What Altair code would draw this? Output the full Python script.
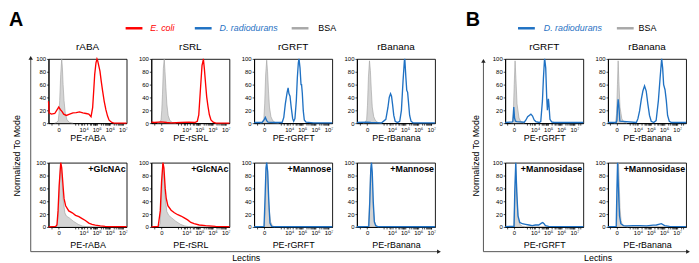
import altair as alt
import pandas as pd

FONT = "Liberation Sans"
RED = "#ff0000"
BLUE = "#1f71c3"
GRAY_FILL = "#c2c2c2"
GRAY_LINE = "#9c9c9c"
GRAY_LEG = "#a8a8a8"

PANEL_W = 79
PANEL_H = 65

# ---------------- axis ticks ----------------
TICKS_A = [-300, 0, 2000, 4000, 6000, 8000, 10000, 20000, 30000, 40000, 50000, 60000, 70000,
           80000, 90000, 100000, 200000, 300000, 400000, 500000, 600000, 700000, 800000, 900000,
           1000000, 2000000, 3000000, 4000000, 5000000, 6000000, 7000000, 8000000, 9000000, 10000000]
TICKS_B = [-500, 0, 2000, 4000, 6000, 8000, 10000, 20000, 30000, 40000, 50000, 60000, 70000,
           80000, 90000, 100000, 200000, 300000, 400000, 500000, 600000, 700000, 800000, 900000,
           1000000, 2000000, 3000000, 4000000, 5000000, 6000000, 7000000, 8000000, 9000000,
           10000000, 20000000, 30000000]
MAJOR_VALUES = [0, 10000, 100000, 1000000, 10000000]
MAJOR_LABELS = ["0", "10⁴", "10⁵", "10⁶", "10⁷"]
Y_TICKS = [0, 20, 40, 60, 80, 100]

# ---------------- text ----------------
PANEL_LETTERS = ["A", "B"]
LEGEND_A = ["E. coli", "D. radiodurans", "BSA"]
LEGEND_B = ["D. radiodurans", "BSA"]
Y_TITLE = "Normalized To Mode"
X_TITLE = "Lectins"
LECTINS_A = ["rABA", "rSRL", "rGRFT", "rBanana"]
LECTINS_B = ["rGRFT", "rBanana"]
TAGS_A = ["+GlcNAc", "+GlcNAc", "+Mannose", "+Mannose"]
TAGS_B = ["+Mannosidase", "+Mannosidase"]

# ---------------- histograms, panel A, top row ----------------
ABA_BSA_X = [-139, -60, -10, 7, 25, 55, 90, 118, 150, 200, 284, 430, 740, 1520]
ABA_BSA_Y = [0, 1, 4, 15, 35, 76, 100, 86, 60, 35, 14, 5, 1, 0]
ABA_EC_X = [-630, -552, -328, -127, -39, 2, 45, 106, 180, 362, 743, 1440, 2640, 4800, 8700,
            15500, 24900, 37000, 49000, 59000, 70500, 88200, 105000, 119000, 142000, 177000,
            222000, 283000, 373000, 499000, 670000, 880000, 1410000, 2100000, 18900000]
ABA_EC_Y = [34, 16, 14, 15, 21, 25, 21, 18, 14, 12, 14, 16, 16.5, 17.5, 16, 15, 14, 10, 24, 50,
            76, 94, 100, 97, 90, 81, 65, 50, 34, 21, 11, 4.6, 1, 0, 0]

SRL_BSA_X = [-139, -60, -10, 7, 25, 50, 80, 110, 150, 200, 284, 430, 740, 1520]
SRL_BSA_Y = [0, 1, 5, 20, 45, 85, 100, 80, 55, 30, 12, 4, 1, 0]
SRL_EC_X = [-630, -300, -5, 200, 566, 3790, 15500, 44000, 68000, 88200, 119000, 156000, 185000,
            197000, 236000, 297000, 353000, 443000, 565000, 745000, 1100000, 1770000, 18900000]
SRL_EC_Y = [1.5, 1, 2, 1, 0.5, 1, 1.5, 1, 3, 13, 54, 90, 96, 100, 84, 59, 41, 26, 13, 5, 1.5, 0, 0]

GRFT_BSA_X = [-139, -60, -10, 10, 35, 68, 100, 140, 190, 284, 430, 740, 1520]
GRFT_BSA_Y = [0, 1, 6, 30, 75, 98, 80, 50, 25, 10, 4, 1, 0]
GRFT_DR_X = [-630, -60, -5, 26, 68, 118, 566, 2800, 3790, 5000, 6800, 8200, 9500, 11500, 14200,
             18400, 22000, 27500, 35000, 42000, 50000, 56000, 67000, 80000, 88000, 100000,
             119000, 142000, 193000, 705000, 18900000]
GRFT_DR_Y = [1, 1, 5, 9, 4, 1.5, 1, 1, 9, 30, 47, 55, 46, 42, 25, 7, 3, 7, 35, 71, 94, 100, 86,
             60, 60, 47, 19, 5, 1.5, 0.5, 0.5]

BAN_BSA_X = [-139, -60, -10, 10, 35, 68, 100, 140, 190, 284, 430, 740, 1520]
BAN_BSA_Y = [0, 1, 5, 28, 72, 97, 82, 52, 25, 10, 4, 1, 0]
BAN_DR_X = [-630, -5, 118, 1520, 3300, 4800, 6100, 7690, 9190, 10900, 13700, 17500, 26200, 39000,
            52400, 70000, 88200, 95000, 115000, 134000, 156000, 177000, 222000, 283000, 400000,
            18900000]
BAN_DR_Y = [1, 1.5, 1, 0.5, 6, 24, 40, 46, 42, 30, 12, 3, 1, 3, 20, 66, 97, 100, 71, 51, 48, 35,
            12, 3, 0.5, 0.5]

# ---------------- panel A, bottom row (inhibitors) ----------------
ABA2_BSA_X = [-80, -30, -5, 26, 55, 90, 150, 250, 362, 700, 1520, 3790, 7690, 15500, 44000]
ABA2_BSA_Y = [0, 5, 28, 76, 100, 81, 44, 22, 17, 14, 9, 4, 1.5, 0.5, 0]
ABA2_EC_X = [-630, -85, -45, -15, 12, 55, 90, 150, 200, 305, 620, 1260, 2330, 4300, 7690, 13600,
             25000, 44000, 78000, 190000, 440000, 1410000, 18900000]
ABA2_EC_Y = [0, 1, 3, 25, 65, 100, 92, 63, 44, 33, 25, 22, 18, 16, 13, 10, 6, 4, 2.7, 1.6, 1, 0.5, 0.5]

SRL2_BSA_X = [-90, -35, -8, 20, 37, 68, 120, 200, 330, 650, 1400, 3500, 7500, 15000, 40000]
SRL2_BSA_Y = [0, 5, 30, 78, 100, 80, 45, 24, 18, 14, 9, 4, 1.5, 0.5, 0]
SRL2_EC_X = [-630, -100, -30, 2, 37, 68, 118, 164, 265, 566, 1100, 2090, 3790, 6800, 12400,
             22000, 39000, 95000, 297000, 1680000, 18900000]
SRL2_EC_Y = [0, 1, 25, 70, 100, 92, 60, 45, 33, 26, 22, 19, 17, 14, 11, 7, 5, 3, 2, 1, 0.5]

GRFT2_BSA_X = [-5, 18, 45, 68, 106, 160, 260, 400, 700]
GRFT2_BSA_Y = [0, 20, 80, 97, 80, 30, 8, 2, 0]
GRFT2_DR_X = [-630, -5, 18, 45, 68, 106, 150, 219, 340, 480, 18900000]
GRFT2_DR_Y = [0.3, 1, 44, 92, 100, 86, 44, 6, 1, 0.5, 0.3]

BAN2_BSA_X = [30, 60, 100, 140, 180, 250, 350, 500, 800]
BAN2_BSA_Y = [0, 25, 80, 97, 78, 30, 8, 2, 0]
BAN2_DR_X = [-630, 45, 78, 118, 150, 190, 250, 330, 456, 700, 18900000]
BAN2_DR_Y = [0.3, 1, 40, 90, 100, 85, 40, 8, 2, 0.5, 0.3]

# ---------------- panel B ----------------
B_GRFT_BSA_X = [-145, -67, -20, 20, 62, 110, 188, 366, 620, 1290]
B_GRFT_BSA_Y = [0, 2, 15, 60, 97, 70, 30, 8, 2, 0]
B_GRFT_DR_X = [-857, -67, -40, 0, 35, 85, 188, 1290, 1810, 2520, 3390, 4640, 6290, 8390, 11350,
               20300, 27300, 36700, 43600, 52000, 54700, 65300, 77700, 87700, 104500, 115700,
               137700, 185000, 275000, 47000000]
B_GRFT_DR_Y = [1, 2, 3, 25, 8, 3, 2.5, 1.5, 5, 10, 12, 14, 11, 5, 2.5, 1, 2.5, 35, 70, 97, 100, 86,
               40, 20, 38, 28, 6, 2, 1, 1]

B_BAN_BSA_X = [-145, -40, 0, 40, 77, 120, 200, 366, 620, 1290]
B_BAN_BSA_Y = [0, 2, 15, 60, 97, 65, 25, 7, 2, 0]
B_BAN_DR_X = [-857, -16, 13, 46, 77, 120, 188, 7540, 10000, 13500, 18300, 24200, 32500, 43600,
              57900, 77700, 104500, 163000, 248000, 369000, 496000, 655000, 778000, 925000,
              1180000, 1480000, 1850000, 2490000, 3690000, 47000000]
B_BAN_DR_Y = [1, 1, 4, 25, 37, 27, 3, 1, 7, 19, 37, 50, 58, 50, 30, 12, 3, 1, 4, 35, 70, 100, 86,
              60, 52, 35, 12, 3, 1, 1]

B_GRFT2_BSA_X = [0, 30, 75, 100, 140, 210, 300, 450, 840, 1500]
B_GRFT2_BSA_Y = [0, 28, 63, 100, 76, 33, 12, 4, 1, 0]
B_GRFT2_DR_X = [-857, 13, 46, 100, 166, 268, 450, 840, 1690, 3240, 5870, 10700, 19000, 30900,
                38800, 48500, 61900, 110000, 47000000]
B_GRFT2_DR_Y = [0.5, 1, 55, 100, 55, 17, 7, 5, 4, 3, 2, 3, 3, 6, 7, 5, 2, 1, 0.5]

B_BAN2_BSA_X = [0, 25, 70, 95, 135, 200, 290, 440, 800, 1500]
B_BAN2_BSA_Y = [0, 25, 65, 100, 75, 30, 10, 3, 1, 0]
B_BAN2_DR_X = [-857, -16, 13, 46, 100, 166, 268, 575, 1200, 4380, 14300, 46000, 147000, 261000,
               621000, 1100000, 2600000, 47000000]
B_BAN2_DR_Y = [0.5, 1, 55, 100, 55, 17, 5, 2, 1.6, 2, 2, 1.6, 2.7, 3, 5, 2, 1, 0.5]

# ---------------- helpers ----------------
ONE = pd.DataFrame({"k": [0]})

LABEL_EXPR = " : ".join(
    f"datum.value == {v} ? '{t}'" for v, t in zip(MAJOR_VALUES, MAJOR_LABELS)
) + " : ''"

SCALE_A = alt.Scale(type="symlog", constant=128, domain=[-630, 18900000], nice=False, zero=False)
SCALE_B = alt.Scale(type="symlog", constant=244, domain=[-857, 47000000], nice=False, zero=False)
Y_SCALE = alt.Scale(domain=[0, 100], nice=False, zero=False)


def text_mark(s, x, y, size, color="black", weight="normal", style="normal",
              align="left", baseline="middle", angle=0):
    return alt.Chart(pd.DataFrame({"t": [s]})).mark_text(
        align=align, baseline=baseline, fontSize=size, font=FONT, fontWeight=weight,
        fontStyle=style, color=color, angle=angle
    ).encode(x=alt.value(x), y=alt.value(y), text="t:N")


def hrule(x1, x2, y, color="black", width=1.0):
    return alt.Chart(ONE).mark_rule(color=color, strokeWidth=width).encode(
        x=alt.value(x1), x2=alt.value(x2), y=alt.value(y))


def vrule(x, y1, y2, color="black", width=1.0):
    return alt.Chart(ONE).mark_rule(color=color, strokeWidth=width).encode(
        x=alt.value(x), y=alt.value(y1), y2=alt.value(y2))


def arrow(x, y, shape):
    return alt.Chart(ONE).mark_point(shape=shape, filled=True, size=20, color="#222222",
                                     opacity=1).encode(x=alt.value(x), y=alt.value(y))


def panel(sx, sy, color, bx, by, xtitle, scale, ticks, title=None, tag=None, extras=(), row=1):
    x_axis = alt.Axis(title=xtitle, values=ticks, labelExpr=LABEL_EXPR, labelFontSize=6,
                      labelPadding=1, tickSize=2, tickColor="black", tickWidth=0.7,
                      domainColor="black", labelOverlap=False, labelFlush=False,
                      labelBound=False, grid=False, titleFontSize=9, titleFontWeight="normal",
                      titlePadding=2 if row == 1 else 5)
    y_axis = alt.Axis(title=None, values=Y_TICKS, labelFontSize=6, labelPadding=1, tickSize=2,
                      tickColor="black", tickWidth=0.7, domainColor="black", grid=False,
                      labelOverlap=False, labelFlush=False, labelBound=False)
    xenc = alt.X("x:Q", scale=scale, axis=x_axis)
    yenc = alt.Y("y:Q", scale=Y_SCALE, axis=y_axis)
    bsa = alt.Chart(pd.DataFrame({"x": bx, "y": by})).mark_area(
        color=GRAY_FILL, line={"color": GRAY_LINE, "strokeWidth": 0.6}
    ).encode(x=xenc, y=yenc)
    smp = alt.Chart(pd.DataFrame({"x": sx, "y": sy})).mark_line(
        color=color, strokeWidth=1.35).encode(x=xenc, y=yenc)
    layers = [bsa, smp]
    if tag:
        layers.append(text_mark(tag, PANEL_W - 1, 9, 9, weight="bold", align="right",
                                baseline="alphabetic"))
    layers.extend(extras)
    ch = alt.layer(*layers).properties(width=PANEL_W, height=PANEL_H,
                                        view=alt.ViewBackground(stroke="black", strokeWidth=0.9))
    if title:
        ch = ch.properties(title=alt.TitleParams(title, fontSize=10, fontWeight="normal",
                                                  offset=4, anchor="middle"))
    return ch


def spacer(w):
    return alt.Chart(ONE).mark_point(opacity=0).encode(
        x=alt.X("k:Q", axis=None), y=alt.Y("k:Q", axis=None)
    ).properties(width=w, height=PANEL_H)


# ---------------- decorations (placed relative to the bottom-left panel of each group) ----
TOP = -105  # offset from bottom-row panel top to top-row panel top
extras_a = [
    text_mark(PANEL_LETTERS[0], -40, TOP - 33, 20, weight="bold", baseline="alphabetic"),
    hrule(78, 95, TOP - 31, RED, 2.5),
    text_mark(LEGEND_A[0], 103, TOP - 31, 9, color=RED, style="italic"),
    hrule(148, 165, TOP - 31, BLUE, 2.5),
    text_mark(LEGEND_A[1], 173, TOP - 31, 9, color=BLUE, style="italic"),
    hrule(246, 263, TOP - 31, GRAY_LEG, 2.5),
    text_mark(LEGEND_A[2], 273, TOP - 31, 9),
    text_mark(Y_TITLE, -32, -7, 9, align="center", angle=270),
    vrule(-18, -106, 90, "#555555", 1.0),
    hrule(-18, 394, 90, "#555555", 1.0),
    arrow(-18, -106, "triangle-up"),
    arrow(395, 90, "triangle-right"),
    text_mark(X_TITLE, 200, 96, 9, align="center"),
]
extras_b = [
    text_mark(PANEL_LETTERS[1], -40, TOP - 33, 20, weight="bold", baseline="alphabetic"),
    hrule(13, 30, TOP - 31, BLUE, 2.5),
    text_mark(LEGEND_B[0], 39, TOP - 31, 9, color=BLUE, style="italic"),
    hrule(113, 130, TOP - 31, GRAY_LEG, 2.5),
    text_mark(LEGEND_B[1], 135, TOP - 31, 9),
    text_mark(Y_TITLE, -29, -7, 9, align="center", angle=270),
    vrule(-22, -103, 90, "#555555", 1.0),
    hrule(-22, 184, 90, "#555555", 1.0),
    arrow(-22, -103, "triangle-up"),
    arrow(185, 90, "triangle-right"),
    text_mark(X_TITLE, 94, 96, 9, align="center"),
]

# ---------------- panels ----------------
a1 = panel(ABA_EC_X, ABA_EC_Y, RED, ABA_BSA_X, ABA_BSA_Y, "PE-" + LECTINS_A[0], SCALE_A, TICKS_A,
           title=LECTINS_A[0])
a2 = panel(SRL_EC_X, SRL_EC_Y, RED, SRL_BSA_X, SRL_BSA_Y, "PE-" + LECTINS_A[1], SCALE_A, TICKS_A,
           title=LECTINS_A[1])
a3 = panel(GRFT_DR_X, GRFT_DR_Y, BLUE, GRFT_BSA_X, GRFT_BSA_Y, "PE-" + LECTINS_A[2], SCALE_A,
           TICKS_A, title=LECTINS_A[2])
a4 = panel(BAN_DR_X, BAN_DR_Y, BLUE, BAN_BSA_X, BAN_BSA_Y, "PE-" + LECTINS_A[3], SCALE_A,
           TICKS_A, title=LECTINS_A[3])
b1 = panel(B_GRFT_DR_X, B_GRFT_DR_Y, BLUE, B_GRFT_BSA_X, B_GRFT_BSA_Y, "PE-" + LECTINS_B[0],
           SCALE_B, TICKS_B, title=LECTINS_B[0])
b2 = panel(B_BAN_DR_X, B_BAN_DR_Y, BLUE, B_BAN_BSA_X, B_BAN_BSA_Y, "PE-" + LECTINS_B[1],
           SCALE_B, TICKS_B, title=LECTINS_B[1])

a5 = panel(ABA2_EC_X, ABA2_EC_Y, RED, ABA2_BSA_X, ABA2_BSA_Y, "PE-" + LECTINS_A[0], SCALE_A,
           TICKS_A, tag=TAGS_A[0], extras=extras_a, row=2)
a6 = panel(SRL2_EC_X, SRL2_EC_Y, RED, SRL2_BSA_X, SRL2_BSA_Y, "PE-" + LECTINS_A[1], SCALE_A,
           TICKS_A, tag=TAGS_A[1], row=2)
a7 = panel(GRFT2_DR_X, GRFT2_DR_Y, BLUE, GRFT2_BSA_X, GRFT2_BSA_Y, "PE-" + LECTINS_A[2], SCALE_A,
           TICKS_A, tag=TAGS_A[2], row=2)
a8 = panel(BAN2_DR_X, BAN2_DR_Y, BLUE, BAN2_BSA_X, BAN2_BSA_Y, "PE-" + LECTINS_A[3], SCALE_A,
           TICKS_A, tag=TAGS_A[3], row=2)
b3 = panel(B_GRFT2_DR_X, B_GRFT2_DR_Y, BLUE, B_GRFT2_BSA_X, B_GRFT2_BSA_Y, "PE-" + LECTINS_B[0],
           SCALE_B, TICKS_B, tag=TAGS_B[0], extras=extras_b, row=2)
b4 = panel(B_BAN2_DR_X, B_BAN2_DR_Y, BLUE, B_BAN2_BSA_X, B_BAN2_BSA_Y, "PE-" + LECTINS_B[1],
           SCALE_B, TICKS_B, tag=TAGS_B[1], row=2)

cells = [a1, a2, a3, a4, spacer(21), b1, b2,
         a5, a6, a7, a8, spacer(21), b3, b4]

chart = alt.concat(
    *cells, columns=7, spacing={"row": 40, "column": 25}, bounds="flush", align="each"
).properties(padding=0).configure(font=FONT).configure_view(
    stroke="transparent"
).configure_axis(labelFont=FONT, titleFont=FONT, labelColor="black", titleColor="black",
                 labelOverlap=False
).configure_title(font=FONT, color="black")

chart.save("out.html", embed_options={"renderer": "svg", "actions": False})
